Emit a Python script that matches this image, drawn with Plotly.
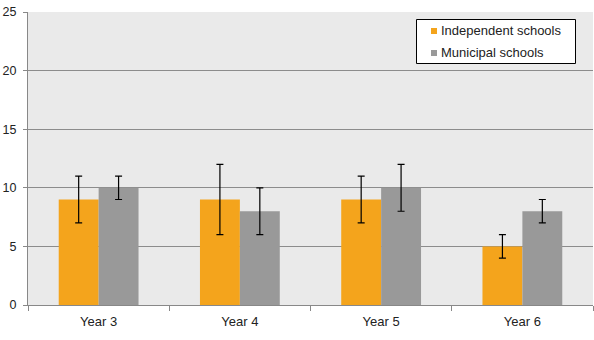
import plotly.graph_objects as go

# School year groups and the two school types
years = ["Year 3", "Year 4", "Year 5", "Year 6"]
independent = [9, 9, 9, 5]
independent_low = [7, 6, 7, 4]
independent_high = [11, 12, 11, 6]
municipal = [10, 8, 10, 8]
municipal_low = [9, 6, 8, 7]
municipal_high = [11, 10, 12, 9]
y_ticks = [0, 5, 10, 15, 20, 25]
series_names = ["Independent schools", "Municipal schools"]
series_colors = ["#F4A41C", "#999999"]

W, H = 594, 340
ML, MR, MT, MB = 28, 1, 12, 35
PW, PH = W - ML - MR, H - MT - MB


def err(vals, lo, hi):
    return dict(
        type="data",
        symmetric=False,
        array=[h - v for v, h in zip(vals, hi)],
        arrayminus=[v - l for v, l in zip(vals, lo)],
        color="black",
        thickness=1.2,
        width=3.5,
    )


def px_x(px):
    return (px - ML) / PW


def px_y(py):
    return (H - MB - py) / PH


fig = go.Figure()
for name, color, vals, lo, hi in [
    (series_names[0], series_colors[0], independent, independent_low, independent_high),
    (series_names[1], series_colors[1], municipal, municipal_low, municipal_high),
]:
    fig.add_trace(go.Bar(
        x=years, y=vals, name=name,
        marker=dict(color=color, line=dict(width=0)),
        error_y=err(vals, lo, hi),
    ))

# Boxed legend in the upper right of the plot area
shapes = [dict(
    type="rect", xref="paper", yref="paper",
    x0=px_x(416.5), x1=px_x(575.5), y0=px_y(63.5), y1=px_y(19.5),
    fillcolor="white", line=dict(color="black", width=1), layer="above",
)]
annotations = []
for i, (name, color) in enumerate(zip(series_names, series_colors)):
    cy = 31 + 22 * i
    shapes.append(dict(
        type="rect", xref="paper", yref="paper",
        x0=px_x(431), x1=px_x(437), y0=px_y(cy + 3), y1=px_y(cy - 3),
        fillcolor=color, line=dict(width=0), layer="above",
    ))
    annotations.append(dict(
        xref="paper", yref="paper", x=px_x(439), y=px_y(cy),
        xanchor="left", yanchor="middle", text=name, showarrow=False,
        font=dict(size=13, color="#222222"),
    ))

fig.update_layout(
    width=W, height=H,
    margin=dict(l=ML, r=MR, t=MT, b=MB),
    paper_bgcolor="white",
    plot_bgcolor="#EAEAEA",
    barmode="group",
    bargap=0.435,
    bargroupgap=0,
    showlegend=False,
    font=dict(family="Liberation Sans, Arial, sans-serif", size=12, color="#222222"),
    shapes=shapes,
    annotations=annotations,
    xaxis=dict(
        tickson="boundaries", ticks="outside", ticklen=5, tickcolor="#888888",
        showline=True, linecolor="#888888", linewidth=1,
        showgrid=False, tickfont=dict(size=13), ticklabelstandoff=4,
    ),
    yaxis=dict(
        range=[0, 25], tickvals=y_ticks, ticks="outside", ticklen=4,
        tickcolor="#888888", showline=True, linecolor="#888888", linewidth=1,
        showgrid=True, gridcolor="#8C8C8C", gridwidth=1, zeroline=False,
        tickfont=dict(size=12.5), ticklabelstandoff=4,
    ),
)

fig.write_html("out.html")
